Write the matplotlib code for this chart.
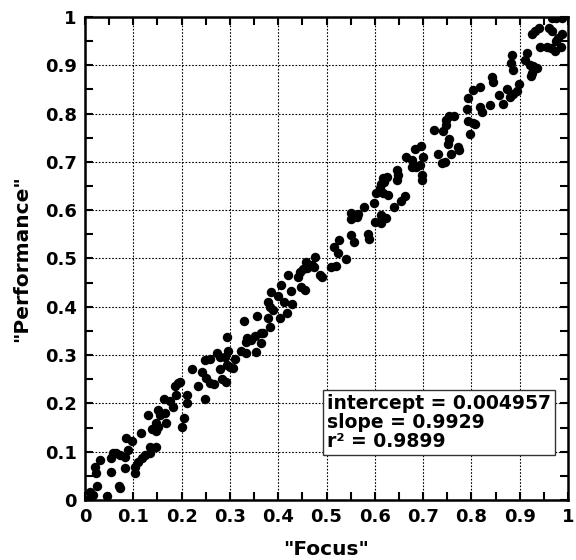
import matplotlib
matplotlib.use("Agg")
import matplotlib.pyplot as plt
from matplotlib.ticker import MultipleLocator, FuncFormatter

# Data
focus = [
    0.010, 0.016, 0.006, 0.025, 0.046, 0.070, 0.073, 0.020, 0.023, 0.032, 0.053, 0.054,
    0.058, 0.065, 0.072, 0.082, 0.090, 0.082, 0.104, 0.104, 0.110, 0.117, 0.124, 0.134,
    0.134, 0.146, 0.084, 0.097, 0.115, 0.139, 0.146, 0.151, 0.148, 0.130, 0.151, 0.155,
    0.165, 0.168, 0.164, 0.175, 0.182, 0.189, 0.186, 0.193, 0.196, 0.200,
    0.206, 0.212, 0.212, 0.248, 0.233, 0.222, 0.242, 0.251, 0.258, 0.267, 0.248, 0.258,
    0.274, 0.279, 0.279, 0.284, 0.291, 0.293, 0.300, 0.306, 0.289, 0.296, 0.294, 0.311,
    0.324, 0.333, 0.334, 0.336, 0.343, 0.355, 0.353, 0.365, 0.369, 0.364, 0.329, 0.357,
    0.379, 0.384, 0.379, 0.382, 0.389, 0.386, 0.400, 0.403, 0.405,
    0.419, 0.412, 0.429, 0.427, 0.448, 0.455, 0.420, 0.441, 0.445, 0.451, 0.460, 0.458,
    0.469, 0.476, 0.475, 0.486, 0.491, 0.510, 0.520, 0.541, 0.516, 0.524, 0.525, 0.550,
    0.557, 0.586, 0.587, 0.550, 0.551, 0.564, 0.566, 0.578, 0.598, 0.600, 0.612, 0.613,
    0.603, 0.610, 0.613,
    0.624, 0.640, 0.654, 0.663, 0.617, 0.627, 0.620, 0.626, 0.617, 0.645, 0.649, 0.645,
    0.665, 0.676, 0.676, 0.686, 0.693, 0.700, 0.697, 0.697, 0.684, 0.695, 0.723, 0.741,
    0.748, 0.753, 0.764, 0.748, 0.731, 0.739, 0.745, 0.753, 0.752, 0.757, 0.772, 0.774,
    0.790, 0.793, 0.792, 0.803, 0.797, 0.808, 0.803, 0.817, 0.817, 0.822,
    0.839, 0.842, 0.844, 0.858, 0.865, 0.873, 0.880, 0.887, 0.894, 0.899, 0.883, 0.885,
    0.887, 0.911, 0.916, 0.921, 0.928, 0.935, 0.925, 0.923, 0.925, 0.932, 0.939, 0.941,
    0.956, 0.961, 0.966, 0.965, 0.973, 0.975, 0.980, 0.985, 0.987, 0.966, 0.975, 0.987,
]
performance = [
    0.017, 0.010, 0.000, 0.028, 0.008, 0.029, 0.025, 0.069, 0.055, 0.083, 0.059, 0.086,
    0.098, 0.097, 0.093, 0.090, 0.104, 0.066, 0.069, 0.055, 0.079, 0.086, 0.093, 0.097,
    0.110, 0.109, 0.128, 0.123, 0.138, 0.148, 0.143, 0.152, 0.159, 0.176, 0.186, 0.176,
    0.180, 0.160, 0.210, 0.204, 0.193, 0.217, 0.235, 0.242, 0.245, 0.152,
    0.169, 0.200, 0.217, 0.210, 0.236, 0.271, 0.264, 0.252, 0.243, 0.240, 0.290, 0.291,
    0.304, 0.297, 0.271, 0.250, 0.245, 0.280, 0.275, 0.274, 0.297, 0.309, 0.338, 0.291,
    0.309, 0.305, 0.328, 0.335, 0.331, 0.307, 0.340, 0.346, 0.345, 0.326, 0.371, 0.380,
    0.376, 0.358, 0.410, 0.400, 0.393, 0.431, 0.422, 0.376, 0.445,
    0.388, 0.409, 0.406, 0.433, 0.440, 0.435, 0.466, 0.461, 0.473, 0.478, 0.480, 0.493,
    0.487, 0.504, 0.482, 0.466, 0.461, 0.482, 0.484, 0.499, 0.523, 0.512, 0.538, 0.549,
    0.535, 0.551, 0.540, 0.594, 0.581, 0.585, 0.592, 0.606, 0.614, 0.576, 0.574, 0.590,
    0.635, 0.645, 0.655,
    0.583, 0.607, 0.620, 0.629, 0.635, 0.631, 0.659, 0.669, 0.666, 0.663, 0.673, 0.683,
    0.711, 0.704, 0.689, 0.690, 0.694, 0.711, 0.673, 0.663, 0.726, 0.733, 0.767, 0.765,
    0.776, 0.795, 0.794, 0.787, 0.716, 0.697, 0.699, 0.747, 0.737, 0.716, 0.731, 0.725,
    0.809, 0.832, 0.785, 0.781, 0.758, 0.779, 0.849, 0.856, 0.814, 0.804,
    0.817, 0.875, 0.865, 0.838, 0.820, 0.850, 0.834, 0.840, 0.846, 0.861, 0.905, 0.922,
    0.891, 0.910, 0.925, 0.901, 0.898, 0.894, 0.884, 0.877, 0.965, 0.972, 0.977, 0.937,
    0.937, 0.977, 0.970, 0.936, 0.929, 0.950, 0.957, 0.937, 0.965, 0.998, 0.998, 0.998,
]
fit_lines = ["intercept = 0.004957", "slope = 0.9929", "r\u00b2 = 0.9899"]
x_label = '"Focus"'
y_label = '"Performance"'

plt.rcParams['font.family'] = ['DejaVu Sans']
plt.rcParams['font.weight'] = 'bold'

fig = plt.figure(figsize=(5.76, 5.60), dpi=100)
ax = fig.add_axes([85 / 576, 60 / 560, 483 / 576, 483 / 560])

ax.plot(focus, performance, linestyle='none', marker='o', markersize=6.8,
        color='black', markeredgewidth=0, zorder=3)

ax.set_xlim(0, 1)
ax.set_ylim(0, 1)
ax.xaxis.set_major_locator(MultipleLocator(0.1))
ax.yaxis.set_major_locator(MultipleLocator(0.1))
ax.xaxis.set_minor_locator(MultipleLocator(0.05))
ax.yaxis.set_minor_locator(MultipleLocator(0.05))

def fmt(v, pos):
    if abs(v) < 1e-9:
        return "0"
    if abs(v - 1) < 1e-9:
        return "1"
    return "%.1f" % v

ax.xaxis.set_major_formatter(FuncFormatter(fmt))
ax.yaxis.set_major_formatter(FuncFormatter(fmt))

ax.tick_params(which='both', direction='in', top=True, right=True,
               width=1.5, colors='black')
ax.tick_params(which='major', length=6, labelsize=13, pad=6)
ax.tick_params(which='minor', length=6)
for lab in ax.get_xticklabels() + ax.get_yticklabels():
    lab.set_fontweight('bold')

for s in ax.spines.values():
    s.set_linewidth(1.8)

ax.grid(True, which='major', color='black', linestyle=(0, (1.5, 1.5)), linewidth=0.8)
ax.set_axisbelow(True)

ax.set_xlabel(x_label, fontsize=14.5, fontweight='bold', labelpad=10)
ax.set_ylabel(y_label, fontsize=14.5, fontweight='bold', labelpad=10)

ax.text(0.501, 0.16, "\n".join(fit_lines), transform=ax.transAxes,
        fontsize=13.5, fontweight='bold', ha='left', va='center',
        linespacing=1.0, zorder=5,
        bbox=dict(boxstyle='square,pad=0.2', facecolor='white',
                  edgecolor='#333333', linewidth=1.0))

fig.savefig("out.png", dpi=100)
